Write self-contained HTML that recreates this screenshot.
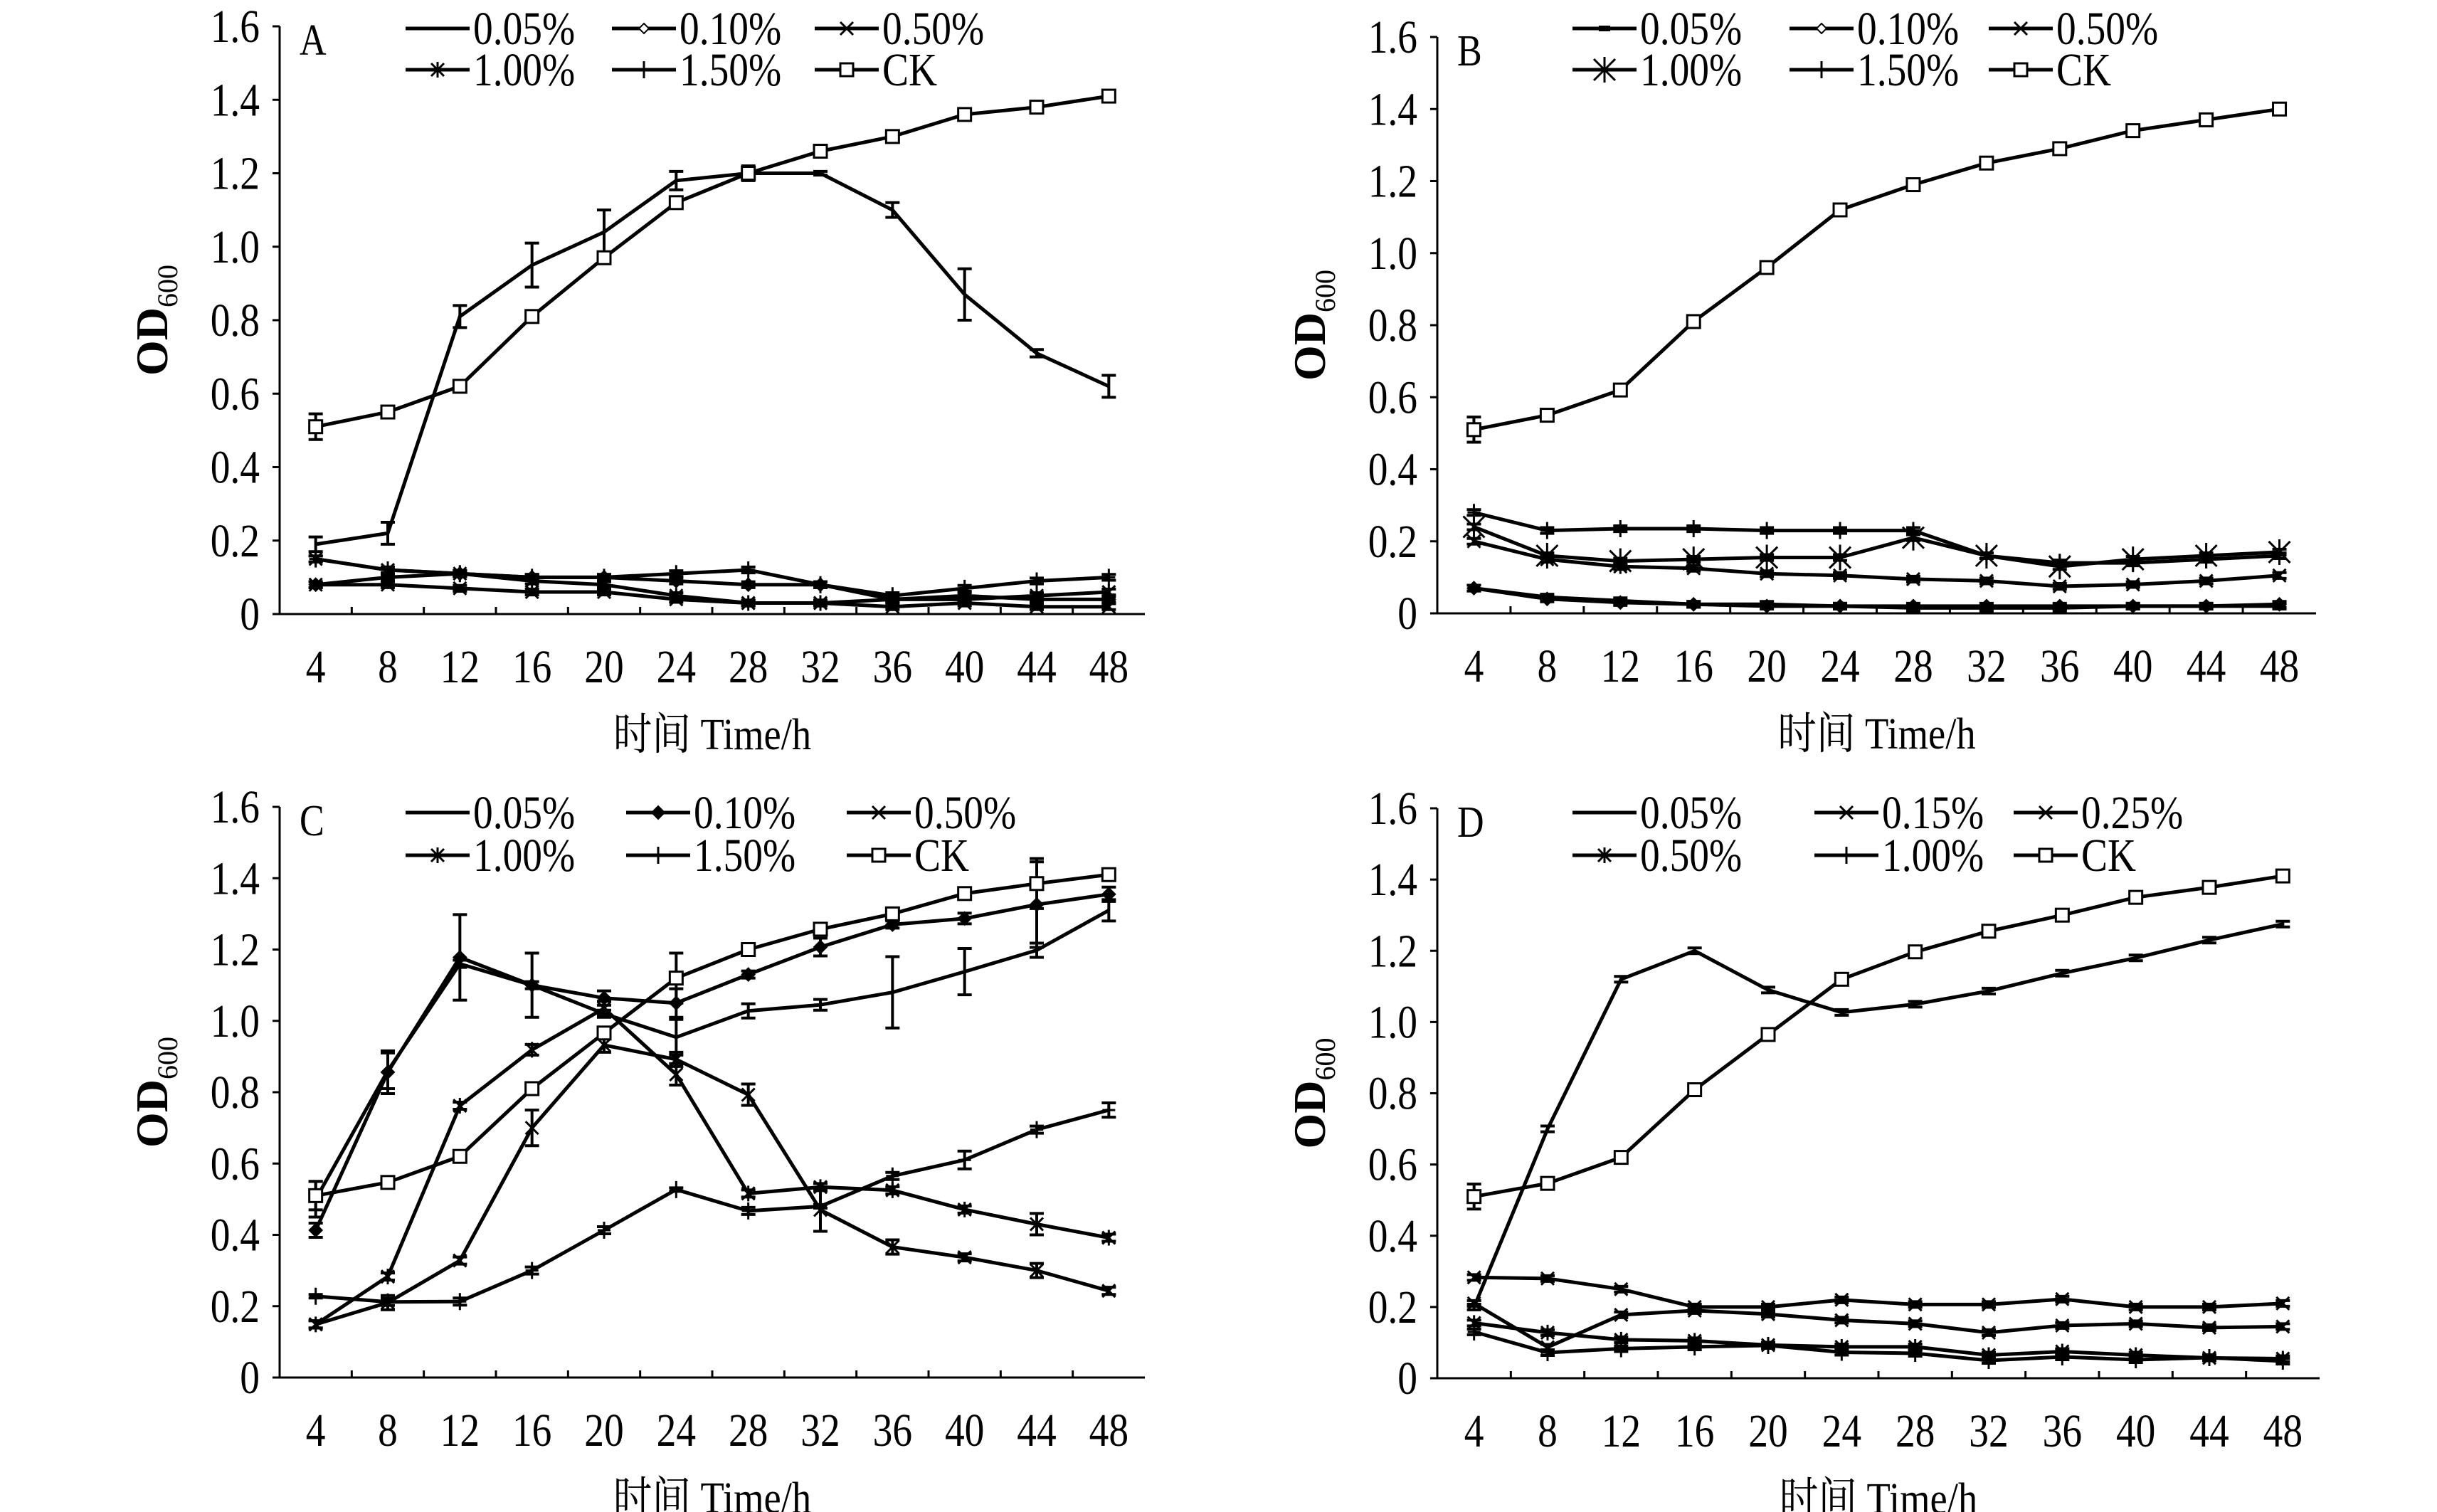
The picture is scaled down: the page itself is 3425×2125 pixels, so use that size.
<!DOCTYPE html>
<html><head><meta charset="utf-8"><style>
html,body{margin:0;padding:0;background:#fff;}
svg{display:block;}
text{font-family:"Liberation Serif","Noto Serif CJK SC","Noto Sans CJK SC",serif;fill:#000;}
</style></head><body>
<svg id="fig" width="3425" height="2125" viewBox="0 0 3425 2125" xmlns="http://www.w3.org/2000/svg"></svg>
<script>
const timeLabels = [4,8,12,16,20,24,28,32,36,40,44,48];
const yTicks = [0,0.2,0.4,0.6,0.8,1.0,1.2,1.4,1.6];
const yTickLabels = ["0","0.2","0.4","0.6","0.8","1.0","1.2","1.4","1.6"];

// Panel A
const aLegend = ["0.05%","0.10%","0.50%","1.00%","1.50%","CK"];
const a005 = [0.19,0.22,0.81,0.95,1.04,1.18,1.20,1.20,1.10,0.87,0.71,0.62];
const a005Err = [0.02,0.03,0.03,0.06,0.06,0.025,0.02,0.005,0.02,0.07,0.01,0.03];
const a010 = [0.08,0.10,0.11,0.10,0.10,0.09,0.08,0.08,0.04,0.05,0.04,0.04];
const a050 = [0.08,0.08,0.07,0.06,0.06,0.04,0.03,0.03,0.02,0.03,0.02,0.02];
const a100 = [0.15,0.12,0.11,0.09,0.08,0.05,0.03,0.03,0.04,0.04,0.05,0.06];
const a150 = [0.15,0.12,0.11,0.10,0.10,0.11,0.12,0.08,0.05,0.07,0.09,0.10];
const aCK = [0.51,0.55,0.62,0.81,0.97,1.12,1.20,1.26,1.30,1.36,1.38,1.41];
const aCKErr = [0.035,0.01,0.01,0.01,0.01,0.01,0.015,0.005,0.005,0.005,0.005,0.008];

// Panel B
const bLegend = ["0.05%","0.10%","0.50%","1.00%","1.50%","CK"];
const b005 = [0.07,0.045,0.035,0.025,0.025,0.02,0.015,0.015,0.015,0.02,0.02,0.02];
const b010 = [0.07,0.04,0.03,0.025,0.02,0.02,0.02,0.02,0.02,0.02,0.02,0.025];
const b050 = [0.20,0.15,0.13,0.125,0.11,0.105,0.095,0.09,0.075,0.08,0.09,0.105];
const b100 = [0.24,0.16,0.145,0.15,0.155,0.155,0.21,0.16,0.13,0.15,0.16,0.17];
const b150 = [0.28,0.23,0.235,0.235,0.23,0.23,0.23,0.16,0.14,0.14,0.15,0.16];
const bCK = [0.51,0.55,0.62,0.81,0.96,1.12,1.19,1.25,1.29,1.34,1.37,1.40];
const bCKErr = [0.035,0.01,0.01,0.01,0.01,0.01,0.01,0.005,0.005,0.01,0.005,0.01];

// Panel C
const cLegend = ["0.05%","0.10%","0.50%","1.00%","1.50%","CK"];
const c005 = [0.50,0.86,1.16,1.10,1.02,0.954,1.028,1.045,1.08,1.138,1.198,1.31];
const c005Err = [0.05,0.05,0.01,0.01,0.01,0.05,0.02,0.015,0.1,0.065,0.02,0.03];
const c010 = [0.413,0.856,1.178,1.10,1.064,1.05,1.13,1.207,1.27,1.287,1.326,1.355];
const c010Err = [0.02,0.06,0.12,0.09,0.02,0.04,0.01,0.025,0.01,0.015,0.12,0.02];
const c050 = [0.149,0.21,0.328,0.70,0.932,0.892,0.793,0.47,0.366,0.337,0.30,0.243];
const c050Err = [0.01,0.02,0.01,0.05,0.02,0.02,0.03,0.06,0.02,0.01,0.02,0.01];
const c100 = [0.149,0.283,0.762,0.919,1.035,0.85,0.516,0.534,0.525,0.471,0.43,0.392];
const c100Err = [0.01,0.01,0.01,0.015,0.02,0.03,0.01,0.01,0.01,0.01,0.03,0.01];
const c150 = [0.228,0.212,0.213,0.30,0.413,0.527,0.467,0.48,0.565,0.61,0.695,0.75];
const c150Err = [0.005,0.01,0.01,0.01,0.01,0.005,0.01,0.005,0.01,0.025,0.01,0.02];
const cCK = [0.51,0.547,0.62,0.81,0.966,1.12,1.20,1.257,1.30,1.357,1.385,1.41];
const cCKErr = [0.04,0.01,0.01,0.01,0.01,0.07,0.01,0.005,0.005,0.005,0.07,0.01];

// Panel D
const dLegend = ["0.05%","0.15%","0.25%","0.50%","1.00%","CK"];
const d005 = [0.20,0.70,1.12,1.20,1.09,1.027,1.05,1.087,1.137,1.18,1.23,1.275];
const d015 = [0.283,0.28,0.25,0.20,0.20,0.22,0.207,0.207,0.222,0.20,0.20,0.21];
const d025 = [0.21,0.087,0.178,0.19,0.18,0.163,0.153,0.128,0.148,0.153,0.142,0.145];
const d050 = [0.155,0.128,0.108,0.105,0.093,0.088,0.088,0.065,0.075,0.065,0.057,0.055];
const d100 = [0.13,0.072,0.083,0.088,0.092,0.073,0.07,0.05,0.06,0.052,0.058,0.048];
const dCK = [0.51,0.547,0.62,0.81,0.965,1.12,1.197,1.255,1.30,1.35,1.378,1.41];
const dCKErr = [0.035,0.01,0.01,0.01,0.01,0.015,0.01,0.008,0.008,0.01,0.008,0.01];

const NS = "http://www.w3.org/2000/svg";
const svg = document.getElementById("fig");
function mk(tag, attrs, parent){
  const e = document.createElementNS(NS, tag);
  for (const k in attrs) e.setAttribute(k, attrs[k]);
  (parent||svg).appendChild(e);
  return e;
}
function txt(parent, x, y, str, size, anchor, sx){
  const t = mk("text", {x:0, y:0, "font-size":size, "text-anchor":anchor||"start",
    transform:`translate(${x} ${y}) scale(${sx||0.84} 1)`}, parent);
  t.textContent = str;
  return t;
}
function marker(g, type, x, y){
  const s = 9;
  let e;
  if (type === "square") {
    e = mk("rect", {x:x-s, y:y-s, width:2*s, height:2*s, fill:"#fff", stroke:"#000", "stroke-width":3}, g);
  } else if (type === "diamond") {
    e = mk("path", {d:`M${x} ${y-s}L${x+s} ${y}L${x} ${y+s}L${x-s} ${y}Z`, fill:"#000", stroke:"#000", "stroke-width":2}, g);
  } else if (type === "odiamond") {
    e = mk("path", {d:`M${x} ${y-7}L${x+7} ${y}L${x} ${y+7}L${x-7} ${y}Z`, fill:"#fff", stroke:"#000", "stroke-width":2}, g);
  } else if (type === "x") {
    e = mk("path", {d:`M${x-s} ${y-s}L${x+s} ${y+s}M${x-s} ${y+s}L${x+s} ${y-s}`, stroke:"#000", "stroke-width":3}, g);
  } else if (type === "star") {
    e = mk("path", {d:`M${x-s} ${y-s}L${x+s} ${y+s}M${x-s} ${y+s}L${x+s} ${y-s}M${x} ${y-s-2}L${x} ${y+s+2}`, stroke:"#000", "stroke-width":3}, g);
  } else if (type === "bigstar") {
    const t = 15;
    e = mk("path", {d:`M${x-t} ${y-t}L${x+t} ${y+t}M${x-t} ${y+t}L${x+t} ${y-t}M${x} ${y-t-3}L${x} ${y+t+3}`, stroke:"#000", "stroke-width":3}, g);
  } else if (type === "plus") {
    e = mk("path", {d:`M${x} ${y-s-3}L${x} ${y+s+3}M${x-s} ${y}L${x+s} ${y}`, stroke:"#000", "stroke-width":3}, g);
  } else if (type === "dash") {
    e = mk("rect", {x:x-8, y:y-4, width:16, height:8, fill:"#000"}, g);
  } else {
    return null;
  }
  
  
  return e;
}

function drawPanel(p){
  const g = mk("g", {});
  
  
  const n = timeLabels.length;
  const cw = (p.right - p.left) / n;
  const xPos = i => p.left + cw * (i + 0.5);
  const yPos = v => p.bottom - (v / 1.6) * (p.bottom - p.top);

  const yAxis = mk("line", {x1:p.left, y1:p.top, x2:p.left, y2:p.bottom, stroke:"#000", "stroke-width":3}, g);
  
  
  const xAxis = mk("line", {x1:p.left, y1:p.bottom, x2:p.right, y2:p.bottom, stroke:"#000", "stroke-width":3}, g);
  
  

  yTicks.forEach((v, i) => {
    const y = yPos(v);
    const tk = mk("line", {x1:p.left-10, y1:y, x2:p.left, y2:y, stroke:"#000", "stroke-width":3}, g);
    
    
    const t = txt(g, p.left-28, y+22, yTickLabels[i], 66, "end");
    
    
  });
  for (let i = 1; i < n; i++) {
    const x = p.left + cw * i;
    const tk = mk("line", {x1:x, y1:p.bottom-10, x2:x, y2:p.bottom, stroke:"#000", "stroke-width":3}, g);
    
    
  }
  timeLabels.forEach((lab, i) => {
    const t = txt(g, xPos(i), p.bottom+96, String(lab), 66, "middle");
    
    
  });

  const xt = txt(g, (p.left+p.right)/2, p.bottom+190, "时间 Time/h", 62, "middle", 0.88);
  
  

  const cy = (p.top + p.bottom) / 2;
  const yt = mk("text", {x:0, y:0, "font-size":64, "font-weight":"bold", "text-anchor":"middle",
    transform:`translate(${p.left-158} ${cy}) rotate(-90)`}, g);
  yt.textContent = "OD";
  const sub = mk("tspan", {"font-size":40, dy:14, "font-weight":"normal"}, yt);
  sub.textContent = "600";
  
  

  const pl = txt(g, p.left+28, p.top+40, p.id, 62, "start");
  
  

  p.series.forEach(s => {
    const sg = mk("g", {}, g);
    
    
    let d = "";
    s.values.forEach((v, i) => { d += (i ? "L" : "M") + xPos(i).toFixed(1) + " " + yPos(v).toFixed(1); });
    const path = mk("path", {d:d, fill:"none", stroke:"#000", "stroke-width":5, "stroke-linejoin":"round"}, sg);
    
    
    s.values.forEach((v, i) => {
      const e = s.err ? s.err[i] : 0.008;
      const x = xPos(i), y1 = yPos(v - e), y2 = yPos(v + e);
      const eb = mk("path", {d:`M${x} ${y1}L${x} ${y2}M${x-10} ${y1}L${x+10} ${y1}M${x-10} ${y2}L${x+10} ${y2}`, stroke:"#000", "stroke-width":4, fill:"none"}, sg);
      
      
      marker(sg, s.marker, x, yPos(v));
    });
  });

  p.legend.forEach((name, i) => {
    const col = i % 3, row = Math.floor(i / 3);
    const tx = p.legX[col], ly = p.legY[row];
    const lg = mk("g", {}, g);
    
    
    const ln = mk("line", {x1:tx-95, y1:ly, x2:tx-5, y2:ly, stroke:"#000", "stroke-width":5}, lg);
    
    
    const s = p.series.find(s => s.name === name);
    marker(lg, s.legMarker || s.marker, tx-50, ly);
    const t = txt(lg, tx, ly+22, name, 66, "start");
    
    
  });
}

drawPanel({id:"A", left:393, right:1609, top:37, bottom:863, legX:[665,955,1240], legY:[40,98], legend:aLegend,
  series:[
    {name:"0.05%", values:a005, err:a005Err, marker:"none"},
    {name:"0.10%", values:a010, marker:"diamond", legMarker:"odiamond"},
    {name:"0.50%", values:a050, marker:"x"},
    {name:"1.00%", values:a100, marker:"star"},
    {name:"1.50%", values:a150, marker:"plus"},
    {name:"CK", values:aCK, err:aCKErr, marker:"square"}]});
drawPanel({id:"B", left:2020, right:3255, top:52, bottom:862, legX:[2305,2610,2890], legY:[40,98], legend:bLegend,
  series:[
    {name:"0.05%", values:b005, marker:"dash"},
    {name:"0.10%", values:b010, marker:"diamond", legMarker:"odiamond"},
    {name:"0.50%", values:b050, marker:"x"},
    {name:"1.00%", values:b100, marker:"bigstar"},
    {name:"1.50%", values:b150, marker:"plus"},
    {name:"CK", values:bCK, err:bCKErr, marker:"square"}]});
drawPanel({id:"C", left:393, right:1609, top:1134, bottom:1936, legX:[665,975,1285], legY:[1142,1202], legend:cLegend,
  series:[
    {name:"0.05%", values:c005, err:c005Err, marker:"none"},
    {name:"0.10%", values:c010, err:c010Err, marker:"diamond"},
    {name:"0.50%", values:c050, err:c050Err, marker:"x"},
    {name:"1.00%", values:c100, err:c100Err, marker:"star"},
    {name:"1.50%", values:c150, err:c150Err, marker:"plus"},
    {name:"CK", values:cCK, err:cCKErr, marker:"square"}]});
drawPanel({id:"D", left:2020, right:3260, top:1136, bottom:1937, legX:[2305,2645,2925], legY:[1142,1202], legend:dLegend,
  series:[
    {name:"0.05%", values:d005, marker:"none"},
    {name:"0.15%", values:d015, marker:"x"},
    {name:"0.25%", values:d025, marker:"x"},
    {name:"0.50%", values:d050, marker:"star"},
    {name:"1.00%", values:d100, marker:"plus"},
    {name:"CK", values:dCK, err:dCKErr, marker:"square"}]});
</script>
</body></html>
